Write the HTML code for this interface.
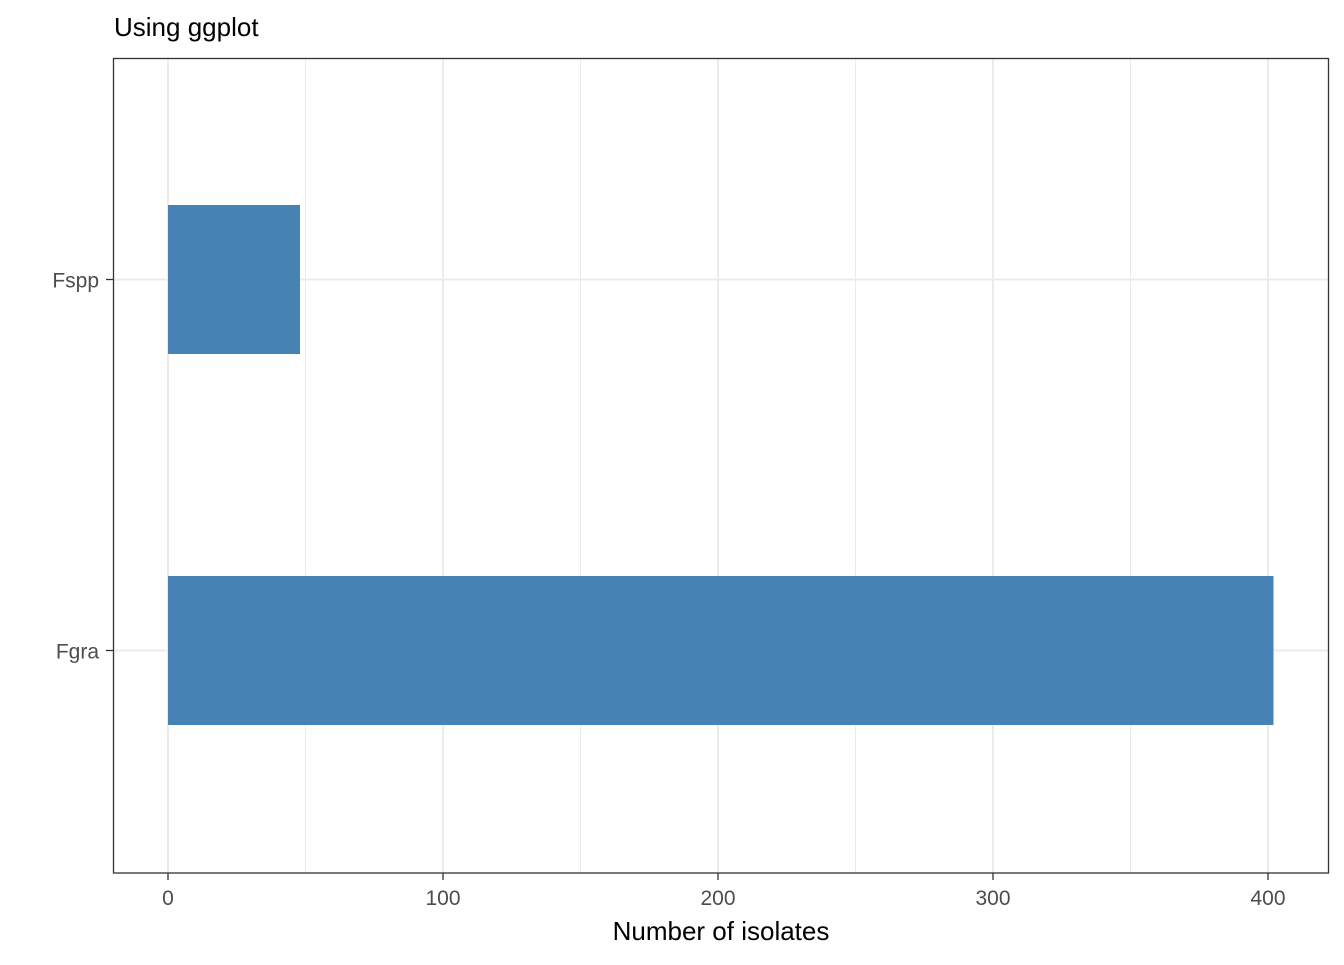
<!DOCTYPE html>
<html><head><meta charset="utf-8"><style>
body{margin:0;background:#fff;font-family:"Liberation Sans",Arial,sans-serif}
</style></head><body>
<svg width="1344" height="960" xmlns="http://www.w3.org/2000/svg">
<text x="114" y="36" font-size="26" fill="#000">Using ggplot</text>
<g id="grid"></g>
<g id="bars"></g>
<rect x="113.5" y="58.5" width="1215" height="814.5" fill="none" stroke="#333" stroke-width="1.3"/>
<g id="axes"></g>
<text x="721" y="940" font-size="26" text-anchor="middle" fill="#000">Number of isolates</text>
</svg>
<script>
const categories = ["Fgra", "Fspp"];
const values = [402, 48];
const xTicks = [0, 100, 200, 300, 400];
const xMinor = [50, 150, 250, 350];
const NS = "http://www.w3.org/2000/svg";
const x = v => 168 + v * 2.75;
const y = i => 650.5 - i * 371;
function mk(tag, attrs, parent){const e=document.createElementNS(NS,tag);for(const k in attrs)e.setAttribute(k,attrs[k]);parent.appendChild(e);return e;}
const grid=document.getElementById('grid'),bars=document.getElementById('bars'),axes=document.getElementById('axes');
xMinor.forEach(v=>{const l=mk('line',{x1:x(v),x2:x(v),y1:58,y2:873,stroke:'#ebebeb','stroke-width':1},grid);

});
xTicks.forEach(v=>{const l=mk('line',{x1:x(v),x2:x(v),y1:58,y2:873,stroke:'#ebebeb','stroke-width':2},grid);


const t=mk('line',{x1:x(v),x2:x(v),y1:873,y2:880,stroke:'#333','stroke-width':1.3},axes);


const tx=mk('text',{x:x(v),y:905,'font-size':21,'text-anchor':'middle',fill:'#4d4d4d'},axes);tx.textContent=v;

});
categories.forEach((c,i)=>{const l=mk('line',{x1:113,x2:1329,y1:y(i),y2:y(i),stroke:'#ebebeb','stroke-width':2},grid);


const r=mk('rect',{x:x(0),y:y(i)-74.5,width:x(values[i])-x(0),height:149,fill:'#4682b4'},bars);


const t=mk('line',{x1:106,x2:113,y1:y(i),y2:y(i),stroke:'#333','stroke-width':1.3},axes);


const tx=mk('text',{x:99,y:y(i)+8,'font-size':21,'text-anchor':'end',fill:'#4d4d4d'},axes);tx.textContent=c;

});
</script>
</body></html>
